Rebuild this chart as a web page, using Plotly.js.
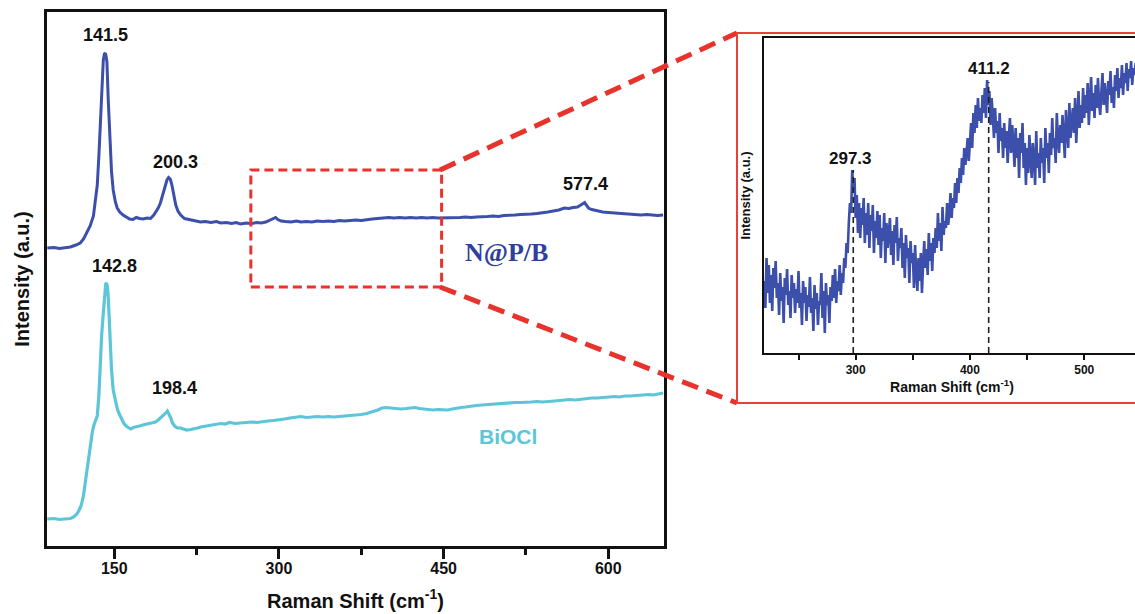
<!DOCTYPE html>
<html>
<head>
<meta charset="utf-8">
<script src="https://cdn.plot.ly/plotly-3.0.1.min.js"></script>
<style>
html,body{margin:0;padding:0;overflow:hidden;background:#fff;}
#chart{width:1160px;height:614px;}
</style>
</head>
<body>
<div id="chart"></div>
<script>
// ---- Main spectrum: N@P/B (Raman shift, intensity a.u.) ----
const nipbX = [89,95,100,105,110,115,119,122,125,128,131,133,134.5,136,137,138,139,140,141,141.8,142.5,143.3,144.5,145.5,146.3,147.5,149,151,152.7,155,158,161,164,167,170,173,176,180,183,186,188,190,192,194,196,198,199.5,201,202.5,204,206,208,210.5,214,219.5,224,228.6,233,238,243,247,252,257,261,265,270,275,280,284,288,292,295,297,299,302,306,311,316,320,325,330,335,340,345,350,355,360,365,370,375,380,385,390,395,400,405,410,415,420,425,430,435,440,445,450,455,460,465,470,475,480,485,490,495,500,505,510,515,520,525,530,535,540,545,550,555,560,564,568,572,575,577,578.5,580,582,585,590,595,600,605,610,615,620,625,630,635,640,645,650];
const nipbY = [298,298.5,297.5,298,299,301,303,307,314,320,330,346,361,391,416,446,471,486,492,493,490,484,446,416,396,374,356,344,338,334,331,329,327,326.5,328.5,327.5,327,328,327.5,331,334,338,343,351,360,366,368.5,367,361,351,341,335,331,327.5,326,325,324,324.5,323.5,324.5,323,323.5,322.5,323.5,322,323,322.5,323.5,323,324,326,327.5,328.5,326.5,325,324.5,324,325,324,324.5,324,325,324.5,325,324.5,325.5,325,325.5,326,325.5,326.5,327,327.5,328,328.5,328,328.5,328,328.5,328,328.5,328,328.5,328,328,328.5,328,328.5,329,328.5,329,329,329.5,330,329.5,330.5,330.5,331,331.5,331.5,332,332.5,333,334,335,336,338,337.5,338.5,339,341,343,343.5,341,338,336.5,335,334,333.5,333,332.5,332,332,331.5,331,331.5,331,330.5,331];

// ---- Main spectrum: BiOCl ----
const bioclX = [89,95,100,105,110,113,116,118,120,122,124,126,128,130,131.5,133,134.5,136,137,138.5,140,141.2,142.2,143,143.8,144.5,145.5,146.3,147.5,149,151,153,155,157,159,162,165,167.3,170,173,176,178.3,181,184,187.5,190,192,194,196,198.4,200,201.5,203,205,207.5,210.3,213,216,219.5,223,226,228.6,232,236,240,244,247,251,255,260,265,270,275,280,285,290,295,300,305,310,315,320,325,330,335,340,345,350,356,360,365,370,375,380,385,390,394,398,402,406,411,416,420,424,428,432,436,440,445,450,454,458,462,466,470,475,480,485,490,495,500,505,510,515,520,525,530,535,540,546,550,555,560,565,570,576,580,585,590,595,600,606,610,615,620,625,630,637,641,645,650];
const bioclY = [27,27.5,26.5,27,27.5,29,32,36,41,51,66,84,101,114,121,125,130,151,183,211,233,251,262,263,259,249,226,199,176,156,144,136,131,126,122,119,117,118.5,119,120,121,121.5,122,123,124,126,128,129,132,135,132,128,123,120,118,118,117,116,116.5,117,118,119,119.5,120.5,121,122,122.5,122,123.5,122.5,123,123.5,124,123.5,124.5,125,125.5,126,127,128,128.5,129.5,128.5,129,129.5,129,129.5,129,129.5,130,130.5,131,131.5,132.5,134,136,138,138.5,138,137.5,137,137.5,138,138.5,137.5,137,136.5,136,136.5,136,136,137,138,138.5,139,140,140.5,141,141.5,142,142,142.5,143,143.5,143.5,143.5,144,144.5,144,144.5,145,145.5,146,146.5,146,147,147.5,148,148,148.5,149,149.5,149,150,150,150.5,151,151.5,151,152,153];

// ---- Inset: N@P/B zoom, 220 to 548 cm-1 in steps of 1 ----
const insetX0 = 220;
const insetDX = 1;
const insetY = [
 72,45,95,60,88,50,78,42,85,65,
 92,55,70,38,80,52,66,30,75,58,
 84,48,62,35,78,55,70,40,64,50,
 82,45,60,28,72,50,66,32,58,46,
 76,40,55,22,68,44,60,28,52,48,
 80,35,62,20,70,48,58,30,66,52,
 78,55,84,50,72,62,88,58,80,70,
 95,85,110,100,130,150,140,183,160,175,
 135,158,120,150,115,145,128,155,110,140,
 118,150,105,138,122,148,100,132,115,142,
 108,138,95,125,112,140,90,130,105,118,
 135,98,122,88,128,110,136,92,115,105,
 125,85,110,75,118,95,105,70,112,90,
 100,65,108,80,62,95,72,100,60,88,
 112,85,104,78,120,92,110,82,115,100,
 125,105,140,112,130,102,146,118,132,125,
 150,128,140,160,135,155,145,170,150,175,
 160,185,170,195,178,205,188,200,215,192,
 210,230,205,240,220,248,225,255,232,245,
 230,258,240,265,235,273,248,262,228,255,
 238,215,245,220,232,200,240,212,225,195,
 230,205,222,190,215,235,200,228,210,186,
 225,195,215,175,220,200,230,185,210,168,
 205,180,218,190,175,210,195,168,222,185,
 200,175,215,190,205,170,225,195,210,180,
 220,198,235,205,215,190,240,212,200,228,
 210,238,218,195,243,222,205,250,215,230,
 245,220,255,210,240,262,225,248,230,265,
 235,258,240,270,228,255,276,242,260,235,
 268,245,275,250,238,262,280,248,270,255,
 240,272,258,282,250,266,245,278,262,285,
 255,275,265,288,258,280,270,290,262,284,
 275,292,268,285,278,290,270,288,282
];

// ---- Labels ----
const mainPeakLabels = ["141.5","200.3","577.4","142.8","198.4"];
const mainPeakLabelX = [141.7,205.8,579,150,204.9];
const mainPeakLabelY = [511,384,362,280,158];
const seriesNames = ["N@P/B","BiOCl"];
const seriesLabelX = [507.6,508.5];
const seriesLabelY = [294,110];
const insetPeakLabels = ["297.3","411.2"];
const insetPeakLabelX = [295.9,416.7];
const insetPeakLabelY = [195,285];
const insetMarkerX = [297.9,416.4];
const insetMarkerTop = [183,271];
const zoomBoxX = [274.4,448.2];
const zoomBoxY = [259,376];

const W = 1160, H = 614;
const px = v => v / W;
const py = v => 1 - v / H;

const BLUE = '#3b4fab';
const CYAN = '#5cc6d8';
const RED = '#e8322c';
const SANS = '"Liberation Sans", Arial, sans-serif';
const SERIF = '"Liberation Serif", "Times New Roman", serif';

const traces = [
  {x: nipbX, y: nipbY, type: 'scatter', mode: 'lines', name: seriesNames[0],
   line: {color: BLUE, width: 3}, xaxis: 'x', yaxis: 'y'},
  {x: bioclX, y: bioclY, type: 'scatter', mode: 'lines', name: seriesNames[1],
   line: {color: CYAN, width: 3.2}, xaxis: 'x', yaxis: 'y'},
  {x0: insetX0, dx: insetDX, y: insetY, type: 'scatter', mode: 'lines', name: 'N@P/B (zoom)',
   line: {color: BLUE, width: 2.6}, xaxis: 'x2', yaxis: 'y2'}
];

const annotations = [];
mainPeakLabels.forEach((t, i) => annotations.push({
  text: t, x: mainPeakLabelX[i], y: mainPeakLabelY[i], xref: 'x', yref: 'y',
  showarrow: false, font: {family: SANS, size: 18, color: '#111', weight: 'bold'}
}));
annotations.push({text: seriesNames[0], x: seriesLabelX[0], y: seriesLabelY[0], xref: 'x', yref: 'y',
  showarrow: false, font: {family: SERIF, size: 26, color: '#2f3f9c', weight: 'bold'}});
annotations.push({text: seriesNames[1], x: seriesLabelX[1], y: seriesLabelY[1], xref: 'x', yref: 'y',
  showarrow: false, font: {family: SANS, size: 21, color: CYAN, weight: 'bold'}});
insetPeakLabels.forEach((t, i) => annotations.push({
  text: t, x: insetPeakLabelX[i], y: insetPeakLabelY[i], xref: 'x2', yref: 'y2',
  showarrow: false, font: {family: SANS, size: 17, color: '#111', weight: 'bold'}
}));

const shapes = [
  {type: 'rect', xref: 'x', yref: 'y', x0: zoomBoxX[0], x1: zoomBoxX[1], y0: zoomBoxY[0], y1: zoomBoxY[1],
   line: {color: RED, width: 3, dash: '9px,5px'}},
  {type: 'line', xref: 'paper', yref: 'paper', x0: px(440), y0: py(170), x1: px(737), y1: py(33),
   line: {color: RED, width: 5, dash: '17px,9px'}},
  {type: 'line', xref: 'paper', yref: 'paper', x0: px(440), y0: py(287), x1: px(737), y1: py(403),
   line: {color: RED, width: 5, dash: '17px,9px'}},
  {type: 'rect', xref: 'paper', yref: 'paper', x0: px(737), x1: px(1156), y0: py(403), y1: py(33),
   line: {color: '#e8403a', width: 2}}
];
insetMarkerX.forEach((x, i) => shapes.push({
  type: 'line', xref: 'x2', yref: 'y2', x0: x, x1: x, y0: 0, y1: insetMarkerTop[i],
  line: {color: '#222', width: 1.6, dash: '6px,4px'}
}));

const layout = {
  width: W, height: H,
  margin: {l: 0, r: 0, t: 0, b: 0},
  paper_bgcolor: '#fff', plot_bgcolor: 'rgba(0,0,0,0)',
  showlegend: false,
  font: {family: SANS, color: '#111'},
  xaxis: {
    domain: [px(47), px(664)], range: [88.7, 650.8], anchor: 'y',
    showline: true, linewidth: 3, linecolor: '#111', mirror: true,
    showgrid: false, zeroline: false,
    ticks: 'outside', ticklen: 10, tickwidth: 3, tickcolor: '#111',
    tick0: 0, dtick: 150, ticklabelstandoff: -4,
    minor: {tick0: 0, dtick: 75, ticks: 'outside', ticklen: 6, tickwidth: 3, tickcolor: '#111', showgrid: false},
    tickfont: {family: SANS, size: 16, color: '#111', weight: 'bold'},
    title: {text: 'Raman Shift (cm<sup>-1</sup>)', font: {family: SANS, size: 20, color: '#111', weight: 'bold'}, standoff: 18}
  },
  yaxis: {
    domain: [py(546), py(12)], range: [0, 534], anchor: 'x',
    showline: true, linewidth: 3, linecolor: '#111', mirror: true,
    showgrid: false, zeroline: false, showticklabels: false, ticks: '',
    title: {text: 'Intensity (a.u.)', font: {family: SANS, size: 20, color: '#111', weight: 'bold'}, standoff: 10}
  },
  xaxis2: {
    domain: [px(764), px(1140)], range: [219.8, 548.8], anchor: 'y2',
    showline: true, linewidth: 2, linecolor: '#111', mirror: true,
    showgrid: false, zeroline: false,
    ticks: 'outside', ticklen: 5, tickwidth: 2, tickcolor: '#111',
    tick0: 0, dtick: 100,
    minor: {tick0: 0, dtick: 50, ticks: 'outside', ticklen: 5, tickwidth: 2, tickcolor: '#111', showgrid: false},
    tickfont: {family: SANS, size: 12, color: '#111', weight: 'bold'},
    title: {text: 'Raman Shift (cm<sup>-1</sup>)', font: {family: SANS, size: 14, color: '#111', weight: 'bold'}, standoff: 4}
  },
  yaxis2: {
    domain: [py(353), py(38)], range: [0, 315], anchor: 'x2',
    showline: true, linewidth: 2, linecolor: '#111', mirror: true,
    showgrid: false, zeroline: false, showticklabels: false, ticks: '',
    title: {text: 'Intensity (a.u.)', font: {family: SANS, size: 13, color: '#111', weight: 'bold'}, standoff: 8}
  },
  annotations: annotations,
  shapes: shapes
};

Plotly.newPlot('chart', traces, layout, {displayModeBar: false, staticPlot: true});
</script>
</body>
</html>
